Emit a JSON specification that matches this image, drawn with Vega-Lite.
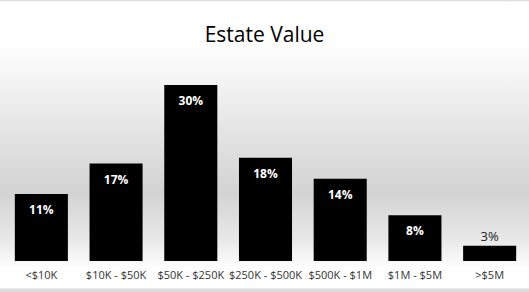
{
  "$schema": "https://vega.github.io/schema/vega-lite/v6.json",
  "width": 529,
  "height": 292,
  "autosize": "none",
  "padding": 0,
  "background": "#ffffff",
  "title": {
    "text": "Estate Value",
    "offset": -46,
    "anchor": "middle",
    "font": "Open Sans",
    "fontSize": 21,
    "fontWeight": 500,
    "color": "#000000"
  },
  "config": {
    "view": {
      "stroke": null,
      "fill": {
        "gradient": "linear",
        "x1": 0, "y1": 0, "x2": 0, "y2": 1,
        "stops": [
          {"offset": 0, "color": "#d9d9d9"},
          {"offset": 0.008, "color": "#ffffff"},
          {"offset": 0.15, "color": "#ffffff"},
          {"offset": 0.45, "color": "#e4e4e4"},
          {"offset": 0.66, "color": "#d3d3d3"},
          {"offset": 0.82, "color": "#e8e8e8"},
          {"offset": 0.92, "color": "#ffffff"},
          {"offset": 0.985, "color": "#ffffff"},
          {"offset": 0.99, "color": "#dddddd"},
          {"offset": 1, "color": "#dddddd"}
        ]
      }
    }
  },
  "data": {
    "values": [
      {"category": "<$10K", "pct": 0.114},
      {"category": "$10K - $50K", "pct": 0.166},
      {"category": "$50K - $250K", "pct": 0.30},
      {"category": "$250K - $500K", "pct": 0.176},
      {"category": "$500K - $1M", "pct": 0.14},
      {"category": "$1M - $5M", "pct": 0.078},
      {"category": ">$5M", "pct": 0.026}
    ]
  },
  "encoding": {
    "x": {
      "field": "category",
      "type": "nominal",
      "sort": null,
      "scale": {"range": [4, 527], "paddingInner": 0.29, "paddingOuter": 0.145},
      "axis": {
        "title": null,
        "orient": "bottom",
        "offset": -31,
        "domain": false,
        "ticks": false,
        "labelAngle": 0,
        "labelPadding": 8,
        "labelFont": "Open Sans",
        "labelFontSize": 11,
        "labelColor": "#333333"
      }
    },
    "y": {
      "field": "pct",
      "type": "quantitative",
      "scale": {"domain": [0, 0.30], "range": [261, 85], "nice": false, "zero": true},
      "axis": null
    }
  },
  "layer": [
    {"mark": {"type": "bar", "color": "#000000"}},
    {
      "transform": [{"filter": "datum.pct >= 0.05"}],
      "mark": {"type": "text", "baseline": "middle", "dy": 16, "color": "#ffffff", "font": "Open Sans", "fontWeight": "bold", "fontSize": 12},
      "encoding": {"text": {"field": "pct", "type": "quantitative", "format": ".0%"}}
    },
    {
      "transform": [{"filter": "datum.pct < 0.05"}],
      "mark": {"type": "text", "baseline": "middle", "dy": -9, "color": "#222222", "font": "Open Sans", "fontSize": 13},
      "encoding": {"text": {"field": "pct", "type": "quantitative", "format": ".0%"}}
    }
  ]
}
